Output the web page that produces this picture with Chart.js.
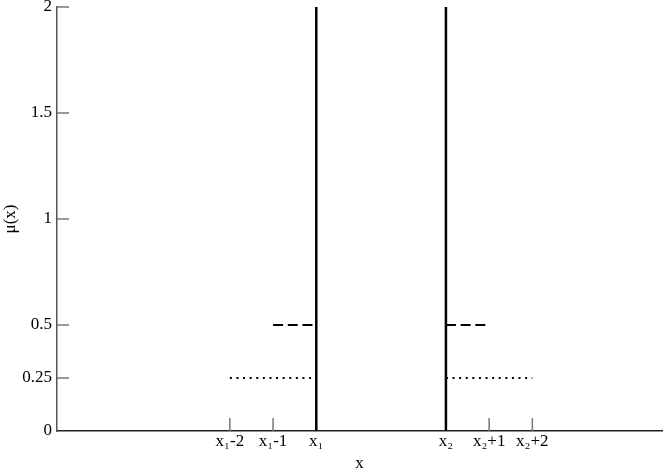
<!DOCTYPE html>
<html>
<head>
<meta charset="utf-8">
<script src="https://cdn.jsdelivr.net/npm/chart.js@4"></script>
<style>
  html, body { margin: 0; padding: 0; background: #fff; }
  #wrap { width: 664px; height: 470px; }
</style>
</head>
<body>
<div id="wrap"><canvas id="chart"></canvas></div>
<script>
// x1 sits at 0, x2 at 3 (one unit = one step on the x axis)
const x1 = 0;
const x2 = 3;

const x_ticks       = [x1 - 2, x1 - 1, x1, x2, x2 + 1, x2 + 2];
const x_tick_labels = ["x\u2081-2", "x\u2081-1", "x\u2081", "x\u2082", "x\u2082+1", "x\u2082+2"];
const y_ticks       = [0, 0.25, 0.5, 1, 1.5, 2];

// spikes at x1 and x2
const spike_x      = [x1, x2];
const spike_height = 2;
// dashed level 0.5, one unit wide
const dash_level = 0.5;
const dash_from  = [x1 - 1, x2];
const dash_to    = [x1, x2 + 1];
// dotted level 0.25, two units wide
const dot_level = 0.25;
const dot_from  = [x1 - 2, x2];
const dot_to    = [x1, x2 + 2];

const FONT = "'Liberation Serif', 'Times New Roman', serif";

let datasets = [];
for (let i = 0; i < dot_from.length; i++) {
    datasets.push({
        data: [{x: dot_from[i], y: dot_level}, {x: dot_to[i], y: dot_level}],
        borderColor: "#000", borderWidth: 2, borderDash: [2, 4.6], pointRadius: 0
    });
}
for (let i = 0; i < dash_from.length; i++) {
    datasets.push({
        data: [{x: dash_from[i], y: dash_level}, {x: dash_to[i], y: dash_level}],
        borderColor: "#000", borderWidth: 2.2, borderDash: [10, 4.7], pointRadius: 0
    });
}
for (let sx of spike_x) {
    datasets.push({
        data: [{x: sx, y: 0}, {x: sx, y: spike_height}],
        borderColor: "#000", borderWidth: 2.5, pointRadius: 0
    });
}

// tick marks drawn inside the plot area
const insideTicks = {
    id: "insideTicks",
    afterDraw(chart) {
        const ctx = chart.ctx;
        const xs = chart.scales.x, ys = chart.scales.y;
        const area = chart.chartArea;
        ctx.save();
        ctx.strokeStyle = "#777";
        ctx.lineWidth = 1.5;
        ctx.beginPath();
        for (let v of y_ticks) {
            if (v === 0) continue;
            const py = ys.getPixelForValue(v);
            ctx.moveTo(area.left, py);
            ctx.lineTo(area.left + 12, py);
        }
        for (let v of x_ticks) {
            if (v === x1 || v === x2) continue;
            const px = xs.getPixelForValue(v);
            ctx.moveTo(px, area.bottom);
            ctx.lineTo(px, area.bottom - 13);
        }
        ctx.stroke();
        ctx.restore();
    }
};

const ctx = document.getElementById("chart").getContext("2d");
const myChart = new Chart(ctx, {
    type: "line",
    data: { datasets: datasets },
    options: {
        responsive: true,
        maintainAspectRatio: false,
        animation: false,
        layout: { padding: { top: 7, right: 2, left: 0, bottom: 0 } },
        plugins: { legend: { display: false }, tooltip: { enabled: false } },
        scales: {
            x: {
                type: "linear",
                min: -6,
                max: 8,
                grid: { display: false, drawTicks: false, tickLength: 0 },
                border: { display: true, color: "#222", width: 1.5 },
                afterBuildTicks: function (axis) {
                    axis.ticks = x_ticks.map(v => ({ value: v }));
                },
                afterFit: function (axis) { axis.height = 39; },
                ticks: {
                    autoSkip: false,
                    maxRotation: 0,
                    padding: 0,
                    color: "#000",
                    font: { family: FONT, size: 17 },
                    callback: function (value) {
                        const i = x_ticks.indexOf(value);
                        return i >= 0 ? x_tick_labels[i] : "";
                    }
                },
                title: {
                    display: true,
                    text: "x",
                    color: "#000",
                    padding: { top: 0, bottom: -4 },
                    font: { family: FONT, size: 17 }
                }
            },
            y: {
                type: "linear",
                min: 0,
                max: 2,
                grid: { display: false, drawTicks: false, tickLength: 0 },
                border: { display: true, color: "#555", width: 1.5 },
                afterBuildTicks: function (axis) {
                    axis.ticks = y_ticks.map(v => ({ value: v }));
                },
                afterFit: function (axis) {
                    axis.width = 57;
                    axis.paddingTop = 0;
                    axis.paddingBottom = 0;
                },
                ticks: {
                    autoSkip: false,
                    padding: 5,
                    color: "#000",
                    font: { family: FONT, size: 17 },
                    callback: function (value) { return String(value); }
                },
                title: {
                    display: true,
                    text: "\u03bc(x)",
                    color: "#000",
                    padding: { top: 0, bottom: 0 },
                    font: { family: FONT, size: 17 }
                }
            }
        }
    },
    plugins: [insideTicks]
});
</script>
</body>
</html>
